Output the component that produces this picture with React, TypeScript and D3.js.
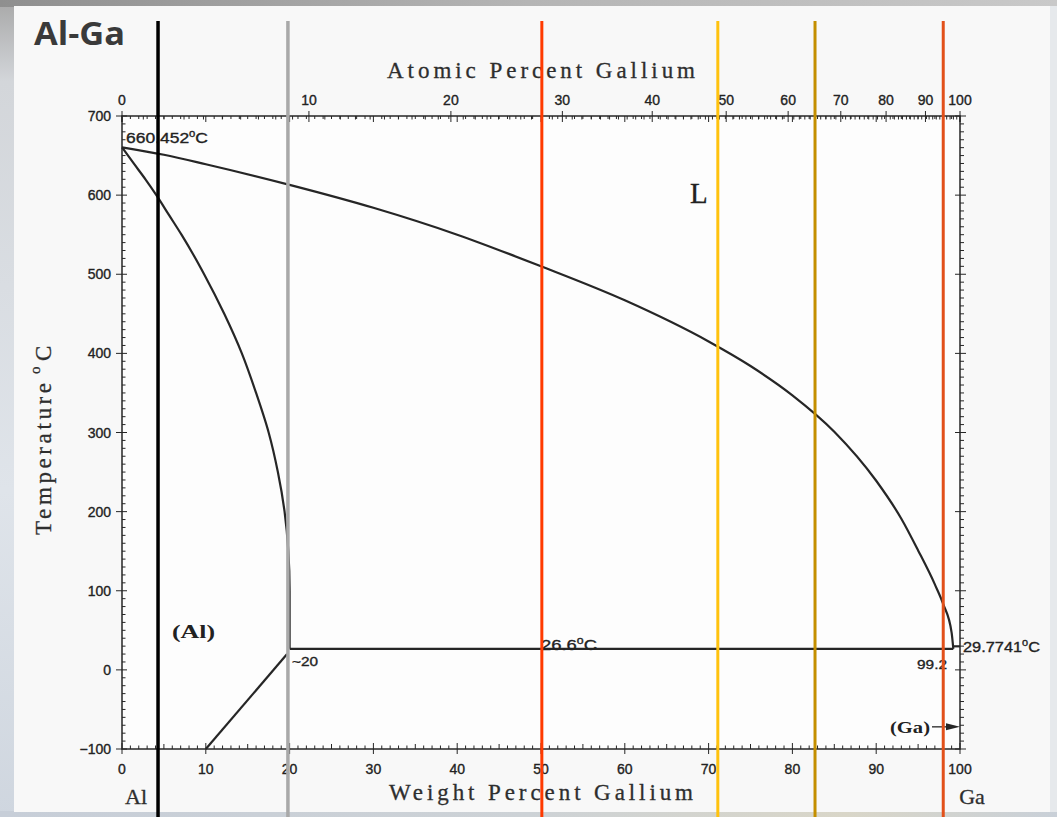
import React from "react";
import * as d3 from "d3";

// ---------- data ----------
const W = 1057;
const H = 817;

const wtMajorTicks = [0, 10, 20, 30, 40, 50, 60, 70, 80, 90, 100];
const atLabels = [0, 10, 20, 30, 40, 50, 60, 70, 80, 90, 100];
const tempLabels = [-100, 0, 100, 200, 300, 400, 500, 600, 700];

// liquidus (wt% Ga, °C)
const liquidusWt = [0, 5, 10, 20, 30, 40, 50, 60, 70, 75, 80, 85, 90, 93, 95, 97, 98, 99, 99.2];
const liquidusT = [660.452, 651, 639, 613, 584, 550, 510, 467, 415, 384, 347, 301, 239, 191, 151, 108, 83, 47, 26.6];

// (Al) solidus / solvus
const alSolvusWt = [0, 1.4, 2.8, 4.1, 5.6, 7.1, 8.5, 9.8, 12.2, 14.3, 16.0, 17.5, 18.6, 19.4, 19.85, 20, 20];
const alSolvusT = [660.452, 640, 620, 600, 575, 550, 525, 500, 450, 400, 350, 300, 250, 200, 150, 100, 26.6];

// low-temperature solvus
const lowSolvusWt = [10, 19.7];
const lowSolvusT = [-100, 20];

const eutecticWt = [20, 99.2];
const eutecticT = 26.6;
const gaMeltT = 29.7741;
const gaArrowT = -72;

// overlay marker lines (wt% Ga)
const overlayWt = [4.3, 19.8, 50.1, 71.1, 82.7, 98.0];
const overlayColors = ["#000000", "#a9a9a9", "#ff3a00", "#ffc20e", "#c48f00", "#e2501a"];
const overlayWidths = [3.5, 3.5, 3, 3, 3, 3];

// ---------- helpers ----------
const M_GA = 69.723;
const M_AL = 26.9815;
const atToWt = (a: number) => (a <= 0 ? 0 : a >= 100 ? 100 : (100 * a * M_GA) / (a * M_GA + (100 - a) * M_AL));

const x = d3.scaleLinear().domain([0, 100]).range([122, 960]);
const y = d3.scaleLinear().domain([-100, 700]).range([749, 116]);

const zip = (xs: number[], ys: number[]) => xs.map((v, i) => [v, ys[i]] as [number, number]);

const lineX = d3
  .line<[number, number]>()
  .x((d) => x(d[0]))
  .y((d) => y(d[1]))
  .curve(d3.curveMonotoneX);
const lineY = d3
  .line<[number, number]>()
  .x((d) => x(d[0]))
  .y((d) => y(d[1]))
  .curve(d3.curveMonotoneY);
const straight = d3
  .line<[number, number]>()
  .x((d) => x(d[0]))
  .y((d) => y(d[1]));

const INK = "#262626";
const TXT = "#222";
const TICK_FONT = "'Liberation Sans', Arial, sans-serif";
const SERIF = "'Liberation Serif', 'DejaVu Serif', serif";

export default function App() {
  const x0 = x(0), x1 = x(100), yTop = y(700), yBot = y(-100);

  const wtMinor = d3.range(0, 101, 1);
  const atMinor = d3.range(0, 101, 1);
  const tMinor = d3.range(-100, 701, 10);

  const lbl = { fontFamily: TICK_FONT, fill: TXT, stroke: TXT, strokeWidth: 0.35 } as const;
  const ttl = { fontFamily: SERIF, fill: "#2e2e2e", stroke: "#2e2e2e", strokeWidth: 0.3 } as const;

  return (
    <svg width={W} height={H} style={{ position: "absolute", left: 0, top: 0, display: "block" }}>
      <defs>
        <linearGradient id="topband" x1="0" x2="1" y1="0" y2="0">
          <stop offset="0" stopColor="#8f8f8f" />
          <stop offset="0.5" stopColor="#b5b5b5" />
          <stop offset="1" stopColor="#c9c9c9" />
        </linearGradient>
        <linearGradient id="leftband" x1="0" x2="0" y1="0" y2="1">
          <stop offset="0" stopColor="#a8a8a8" />
          <stop offset="0.1" stopColor="#d3d6da" />
          <stop offset="0.6" stopColor="#dfe4ea" />
          <stop offset="1" stopColor="#cfd6df" />
        </linearGradient>
        <linearGradient id="botband" x1="0" x2="1" y1="0" y2="0">
          <stop offset="0" stopColor="#c7ced8" />
          <stop offset="0.5" stopColor="#cdd2d6" />
          <stop offset="0.8" stopColor="#d9d6c8" />
          <stop offset="1" stopColor="#c9d0d8" />
        </linearGradient>
      </defs>

      {/* slide background */}
      <rect x={0} y={0} width={W} height={H} fill="url(#leftband)" />
      <rect x={0} y={0} width={W} height={7} fill="url(#topband)" />
      <rect x={0} y={811} width={W} height={H - 811} fill="url(#botband)" />
      <rect x={14} y={6} width={1036} height={806} fill="#f8f8f8" />
      <rect x={1050} y={6} width={7} height={806} fill="#e6e9ec" />

      {/* title */}
      <text x={34} y={45} fontFamily="'Open Sans', 'DejaVu Sans', sans-serif" fontWeight={700} fontSize={32} textLength={91} lengthAdjust="spacingAndGlyphs" fill="#3a3a3a">
        Al-Ga
      </text>

      {/* frame */}
      <rect x={x0} y={yTop} width={x1 - x0} height={yBot - yTop} fill="#fdfdfd" stroke={INK} strokeWidth={1.5} />

      {/* bottom ticks (wt%) */}
      {wtMinor.map((v) => {
        const major = v % 10 === 0;
        const mid = v % 5 === 0;
        return (
          <line key={"bt" + v} x1={x(v)} x2={x(v)} y1={yBot + (major ? 5 : 0)} y2={yBot - (major ? 6 : mid ? 5 : 3.5)} stroke={INK} strokeWidth={1} />
        );
      })}
      {wtMajorTicks.map((v) => (
        <text key={"bl" + v} x={x(v)} y={774} textAnchor="middle" fontSize={14} {...lbl}>
          {v}
        </text>
      ))}

      {/* top ticks: wt% minor + at% ticks */}
      {wtMinor.map((v) => (
        <line key={"tw" + v} x1={x(v)} x2={x(v)} y1={yTop} y2={yTop + (v % 10 === 0 ? 6 : 3)} stroke={INK} strokeWidth={1} />
      ))}
      {atMinor.map((a) => {
        const major = a % 10 === 0;
        return (
          <line key={"ta" + a} x1={x(atToWt(a))} x2={x(atToWt(a))} y1={yTop - (major ? 5 : 0)} y2={yTop + (major ? 6 : 3.5)} stroke={INK} strokeWidth={1} />
        );
      })}
      {atLabels.map((a) => (
        <text key={"tl" + a} x={x(atToWt(a))} y={105} textAnchor="middle" fontSize={14} {...lbl}>
          {a}
        </text>
      ))}

      {/* left & right ticks */}
      {tMinor.map((t) => {
        const major = t % 100 === 0;
        return (
          <g key={"lt" + t}>
            <line x1={x0 - (major ? 6 : 0)} x2={x0 + (major ? 5 : 3.5)} y1={y(t)} y2={y(t)} stroke={INK} strokeWidth={1} />
            <line x1={x1 - (major ? 5 : 0)} x2={x1 + (major ? 6 : 4)} y1={y(t)} y2={y(t)} stroke={INK} strokeWidth={1} />
          </g>
        );
      })}
      {tempLabels.map((t) => (
        <text key={"ll" + t} x={111} y={y(t) + 5} textAnchor="end" fontSize={14} {...lbl}>
          {t < 0 ? "\u2212" + Math.abs(t) : t}
        </text>
      ))}

      {/* axis titles */}
      <text x={387} y={78} textLength={308} lengthAdjust="spacing" fontSize={23} {...ttl}>
        Atomic Percent Gallium
      </text>
      <text x={389} y={800} textLength={304} lengthAdjust="spacing" fontSize={23} {...ttl}>
        Weight Percent Gallium
      </text>
      <g transform="translate(51,0) rotate(-90)">
        <text x={-535} y={0} textLength={152} lengthAdjust="spacing" fontSize={23} {...ttl}>
          Temperature
        </text>
        <text x={-374} y={-11} fontSize={15} {...ttl}>o</text>
        <text x={-361} y={0} fontSize={23} {...ttl}>C</text>
      </g>
      <text x={136} y={804} textAnchor="middle" fontSize={22} {...ttl}>Al</text>
      <text x={972} y={804} textAnchor="middle" fontSize={22} {...ttl}>Ga</text>

      {/* phase boundaries */}
      <g fill="none" stroke={INK} strokeWidth={2.2}>
        <path d={lineX(zip(liquidusWt, liquidusT)) || ""} />
        <path d={lineY(zip(alSolvusWt, alSolvusT)) || ""} />
        <path d={straight(zip(lowSolvusWt, lowSolvusT)) || ""} />
        <path d={straight([[eutecticWt[0], eutecticT], [eutecticWt[1], eutecticT]]) || ""} />
        <path d={straight([[eutecticWt[1], gaMeltT], [100, gaMeltT]]) || ""} />
      </g>

      {/* labels in plot */}
      <text x={126} y={143} fontSize={15.5} textLength={82} lengthAdjust="spacingAndGlyphs" {...lbl}>
        660.452<tspan dy={-6} fontSize={10}>o</tspan><tspan dy={6}>C</tspan>
      </text>
      <text x={690} y={203} fontFamily={SERIF} fontSize={29} fill={TXT} stroke={TXT} strokeWidth={0.3}>L</text>
      <text x={172} y={638} fontFamily={SERIF} fontWeight={700} fontSize={18} textLength={43} lengthAdjust="spacingAndGlyphs" fill={TXT}>(Al)</text>
      <text x={292} y={666} fontSize={13} textLength={26} lengthAdjust="spacingAndGlyphs" {...lbl}>~20</text>
      <text x={541} y={650} fontSize={15} textLength={56} lengthAdjust="spacingAndGlyphs" {...lbl}>
        26.6<tspan dy={-6} fontSize={10}>o</tspan><tspan dy={6}>C</tspan>
      </text>
      <text x={917} y={669} fontSize={13.5} textLength={30} lengthAdjust="spacingAndGlyphs" {...lbl}>99.2</text>
      <text x={963} y={652} fontSize={15} textLength={77} lengthAdjust="spacingAndGlyphs" {...lbl}>
        29.7741<tspan dy={-6} fontSize={10}>o</tspan><tspan dy={6}>C</tspan>
      </text>
      <text x={890} y={733} fontFamily={SERIF} fontWeight={700} fontSize={17} textLength={40} lengthAdjust="spacingAndGlyphs" fill={TXT}>(Ga)</text>
      <line x1={932} x2={946} y1={y(gaArrowT)} y2={y(gaArrowT)} stroke={INK} strokeWidth={1.3} />
      <path
        d={`M${x1},${y(gaArrowT)} L${x1 - 14},${y(gaArrowT) - 3.5} L${x1 - 14},${y(gaArrowT) + 3.5} Z`}
        fill={INK}
      />

      {/* overlay marker lines */}
      {overlayWt.map((w, i) => (
        <line key={"ov" + i} x1={x(w)} x2={x(w)} y1={21} y2={H} stroke={overlayColors[i]} strokeWidth={overlayWidths[i]} />
      ))}
    </svg>
  );
}
